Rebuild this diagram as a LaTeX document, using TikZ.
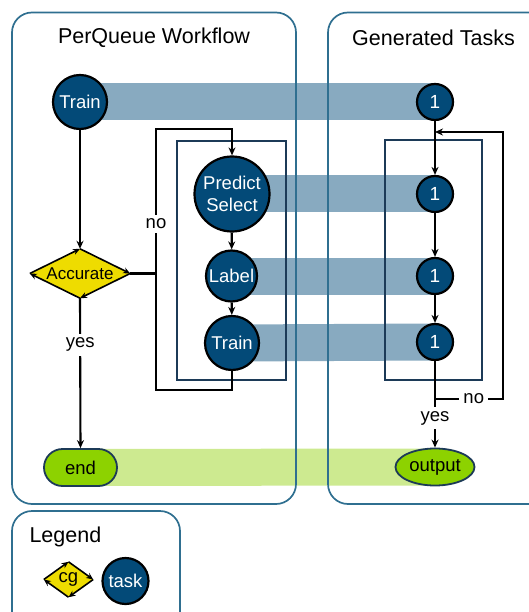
\documentclass[tikz,border=0pt]{standalone}
\usepackage{fontspec}
\setmainfont{Liberation Sans}
\usetikzlibrary{shapes.geometric,shapes.misc,arrows.meta}
\pgfdeclarelayer{bands}
\pgfsetlayers{bands,main}

\definecolor{taskblue}{HTML}{034A78}
\definecolor{bandblue}{HTML}{88AAC0}
\definecolor{panelline}{HTML}{2F6F90}
\definecolor{innerline}{HTML}{1C3A57}
\definecolor{cgyellow}{HTML}{EEDC00}
\definecolor{endgreen}{HTML}{8DD200}
\definecolor{bandgreen}{HTML}{CDEA90}

\tikzset{
  txt/.style={font=\fontsize{18.5}{22}\selectfont},
  title/.style={font=\fontsize{21.5}{25}\selectfont},
  panelbox/.style={draw=panelline, line width=1.7pt, rounded corners=20pt},
  innerbox/.style={draw=innerline, line width=1.8pt},
  tasknode/.style={circle, fill=taskblue, draw=black, line width=2.2pt,
    text=white, inner sep=0pt, txt, align=center},
  onetask/.style={tasknode, minimum size=36pt, font=\fontsize{19}{22}\selectfont},
  cgnode/.style={diamond, fill=cgyellow, inner sep=0pt, text=black},
  cgedge/.style={-{Stealth[length=7pt,width=6pt]}, line width=1.6pt, black},
  greennode/.style={fill=endgreen, draw=innerline, line width=1.8pt, inner sep=0pt, txt},
  conn/.style={line width=2.1pt, black},
  flow/.style={conn, -{Stealth[length=8pt,width=7pt]}},
  lbl/.style={txt, fill=white, inner sep=4pt},
  bandline/.style={line width=37pt, bandblue},
  greenband/.style={line width=37pt, bandgreen},
}

\begin{document}
\begin{tikzpicture}[x=1pt, y=-1pt]
\useasboundingbox (0,0) rectangle (529,612);
\clip (0,0) rectangle (529,612);

% panels
\draw[panelbox] (12,12.5) rectangle (296,504);
\draw[panelbox] (328,12.5) rectangle (560,504);
\draw[panelbox] (12,511) rectangle (180,640);
\node[title] (wftitle) at (154,38) {PerQueue Workflow};
\node[title] (gttitle) at (433.5,38) {Generated Tasks};
\node[title, anchor=west] (lgtitle) at (26,537) {Legend};

% loop frames
\draw[innerbox] (177,141) rectangle (286,380);
\draw[innerbox] (385,140) rectangle (482,380);

% workflow nodes
\node[tasknode, minimum size=54pt] (train1) at (80,102) {Train};
\node[cgnode, aspect=2, minimum width=100pt, minimum height=49pt, font=\fontsize{17}{20}\selectfont] (acc) at (80,273.5) {Accurate};
\node[tasknode, minimum size=75pt] (ps) at (232,194) {Predict\\Select};
\node[tasknode, minimum size=51pt] (label) at (231.5,276) {Label};
\node[tasknode, minimum size=54pt] (train2) at (232,343) {Train};
\node[greennode, rounded rectangle, minimum width=73pt, minimum height=37pt] (endn) at (80.5,467.5) {end};

% generated tasks
\node[onetask] (t1) at (435,102) {1};
\node[onetask] (t2) at (435,194) {1};
\node[onetask] (t3) at (435,276) {1};
\node[onetask] (t4) at (435,342) {1};
\node[greennode, ellipse, minimum width=79pt, minimum height=37pt] (out) at (435,467) {output};

% legend
\node[cgnode, aspect=1.4, minimum width=49pt, minimum height=35pt, txt] (lcg) at (68.5,579.5) {cg};
\node[tasknode, minimum size=46pt] (ltask) at (125.5,581) {task};

% bands linking workflow steps to their tasks
\begin{pgfonlayer}{bands}
  \draw[bandline] (train1.center) -- (t1.center);
  \draw[bandline] (ps.center) -- (t2.center);
  \draw[bandline] (label.center) -- (t3.center);
  \draw[bandline] (train2.center) -- (t4.center);
  \draw[greenband] (endn.center) -- (out.center);
\end{pgfonlayer}

% circular edges of the cg diamonds
\foreach \d in {acc, lcg} {
  \draw[cgedge] (\d.west) -- (\d.north);
  \draw[cgedge] (\d.north) -- (\d.east);
  \draw[cgedge] (\d.east) -- (\d.south);
  \draw[cgedge] (\d.south) -- (\d.west);
}

% workflow connectors
\coordinate (lpT) at (156,129);
\coordinate (lpB) at (156,390);
\draw[flow] (train1) -- (acc.north);
\draw[flow] (train2.south) |- (lpB) -- (lpT) -| (ps.north);
\node[lbl] (nol) at (156,224) {no};
\draw[conn] (acc.east) -- (acc.east -| lpT);
\draw[flow] (acc.south) -- (endn.north) node[lbl, pos=0.31] (yesl) {yes};
\draw[flow] (ps) -- (label);
\draw[flow] (label) -- (train2);

% generated task connectors
\coordinate (rlT) at (503,132);
\coordinate (rlB) at (503,399);
\draw[flow] (t1) -- (t2);
\draw[flow] (t2) -- (t3);
\draw[flow] (t3) -- (t4);
\draw[flow] (t4.south |- rlB) -- node[lbl, pos=0.57] (nor) {no} (rlB) -- (rlT) -- (t1.south |- rlT);
\draw[flow] (t4.south) -- (out.north) node[lbl, pos=0.66] (yesr) {yes};
\end{tikzpicture}
\end{document}
